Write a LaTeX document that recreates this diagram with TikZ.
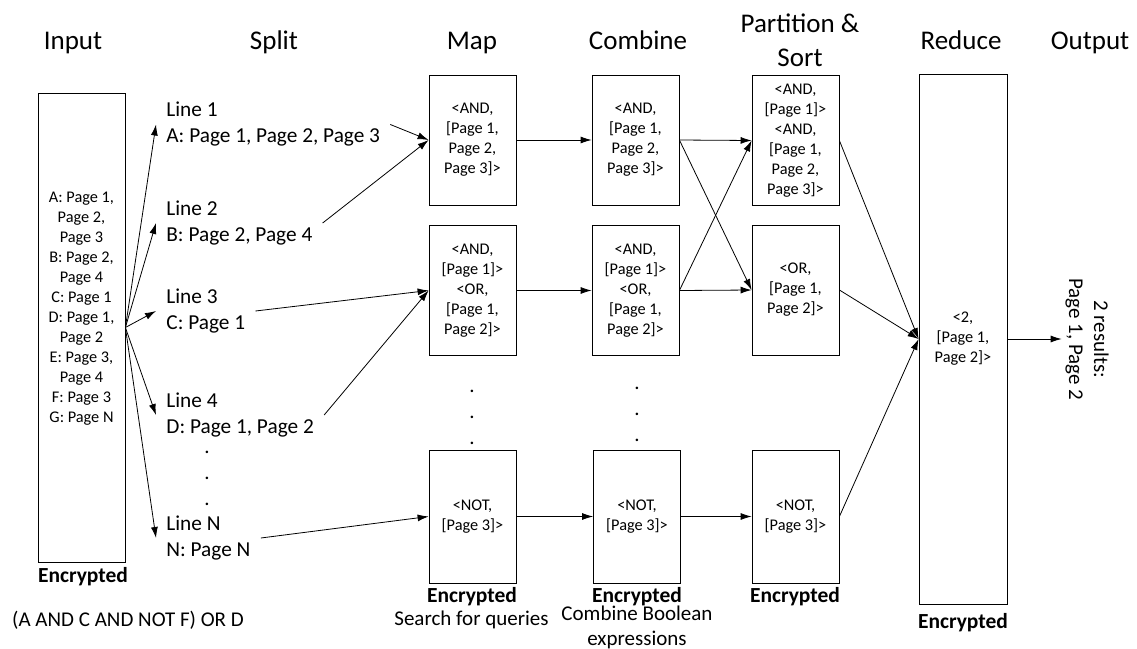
\documentclass[tikz,border=0pt]{standalone}
\usepackage{fontspec}
\setmainfont{Carlito}
\usetikzlibrary{arrows.meta}

\begin{document}
\begin{tikzpicture}[x=1pt, y=-1pt, line width=0.8pt, >={Latex[length=11pt,width=7pt]},
  box/.style={rectangle, draw, minimum width=87pt, minimum height=130pt, inner sep=0pt, align=center, font=\fontsize{16.3}{20}\selectfont},
  hdr/.style={anchor=base, font=\fontsize{27}{34}\selectfont},
  txt/.style={align=center, font=\fontsize{21}{25}\selectfont},
  enc/.style={font=\fontsize{21.5}{25}\selectfont\bfseries},
  splitline/.style={anchor=west, align=left, inner xsep=10pt, inner ysep=0pt, font=\fontsize{21.3}{26}\selectfont},
  dots/.style={align=center, inner sep=0pt, font=\fontsize{21}{26}\selectfont}]
  \useasboundingbox (0, 0) rectangle (1137, 648);

  \node (hinput) [hdr] at (73, 49) {Input};
  \node (hsplit) [hdr] at (274, 49) {Split};
  \node (hmap) [hdr] at (472, 49) {Map};
  \node (hcomb) [hdr] at (638, 49) {Combine};
  \node (hpart) [align=center, font=\fontsize{27}{34}\selectfont] at (800, 40) {Partition \&\\Sort};
  \node (hreduce) [hdr] at (961, 49) {Reduce};
  \node (houtput) [hdr] at (1090, 49) {Output};

  \node (input) [rectangle, draw, minimum width=87pt, minimum height=469pt] at (81.5, 327.5) {};
  \node (inputtext) [align=center, font=\fontsize{16.3}{20}\selectfont] at (81.5, 308.5)
    {A: Page 1,\\Page 2,\\Page 3\\B: Page 2,\\Page 4\\C: Page 1\\D: Page 1,\\Page 2\\E: Page 3,\\Page 4\\F: Page 3\\G: Page N};
  \node (encinput) [enc] at (83, 577) {Encrypted};
  \node (query) [txt] at (128, 620) {(A AND C AND NOT F) OR D};

  \node (split1) [splitline] at (156, 124.5) {Line 1\\A: Page 1, Page 2, Page 3};
  \node (split2) [splitline] at (156, 223) {Line 2\\B: Page 2, Page 4};
  \node (split3) [splitline] at (156, 311) {Line 3\\C: Page 1};
  \node (split4) [splitline] at (156, 415) {Line 4\\D: Page 1, Page 2};
  \node (dotsplit) [dots] at (207, 478) {.\\.\\.};
  \node (splitn) [splitline] at (156, 538) {Line N\\N: Page N};

  \node (map1) [box] at (472.5, 140) {<AND,\\{[}Page 1,\\Page 2,\\Page 3]>};
  \node (map2) [box] at (472.5, 290.5) {<AND,\\{[}Page 1]>\\<OR,\\{[}Page 1,\\Page 2]>};
  \node (dotmap) [dots] at (472, 417) {.\\.\\.};
  \node (map3) [box, minimum height=133pt] at (472.5, 516.5) {<NOT,\\{[}Page 3]>};
  \node (encmap) [enc] at (472, 597) {Encrypted};
  \node (search) [txt] at (471.5, 620) {Search for queries};

  \node (comb1) [box] at (635.5, 140) {<AND,\\{[}Page 1,\\Page 2,\\Page 3]>};
  \node (comb2) [box] at (635.5, 290.5) {<AND,\\{[}Page 1]>\\<OR,\\{[}Page 1,\\Page 2]>};
  \node (dotcomb) [dots] at (637, 414) {.\\.\\.};
  \node (comb3) [box, minimum height=133pt] at (637, 516.5) {<NOT,\\{[}Page 3]>};
  \node (enccomb) [enc] at (637, 597) {Encrypted};
  \node (combdesc) [txt] at (637, 627.5) {Combine Boolean\\expressions};

  \node (part1) [box] at (795.5, 140.5) {<AND,\\{[}Page 1]>\\<AND,\\{[}Page 1,\\Page 2,\\Page 3]>};
  \node (part2) [box] at (795.5, 290) {<OR,\\{[}Page 1,\\Page 2]>};
  \node (part3) [box, minimum height=133pt] at (795.5, 516.5) {<NOT,\\{[}Page 3]>};
  \node (encpart) [enc] at (795, 597) {Encrypted};

  \node (reduce) [box, minimum width=88pt, minimum height=530pt] at (963, 339) {<2,\\{[}Page 1,\\Page 2]>};
  \node (encreduce) [enc] at (963, 623) {Encrypted};

  \node (output) [txt, rotate=-90] at (1087, 339) {2 results:\\Page 1, Page 2};

  \foreach \s in {split1, split2, split3, split4, splitn}
    \draw[->] (input.east) -- (\s.west);

  \draw[->] (split1.east) -- (map1.west);
  \draw[->] (split2.east) -- (map1.west);
  \draw[->] (split3.east) -- (map2.west);
  \draw[->] (split4.east) -- (map2.west);
  \draw[->] (splitn.east) -- (map3.west);

  \draw[->] (map1) -- (comb1);
  \draw[->] (map2) -- (comb2);
  \draw[->] (map3) -- (comb3);

  \draw[->] (comb1.east) -- (part1.west);
  \draw[->] (comb1.east) -- (part2.west);
  \draw[->] (comb2.east) -- (part1.west);
  \draw[->] (comb2.east) -- (part2.west);
  \draw[->] (comb3.east) -- (part3.west);

  \draw[->] (part1.east) -- (reduce.west);
  \draw[->] (part2.east) -- (reduce.west);
  \draw[->] (part3.east) -- (reduce.west);

  \draw[->] (reduce.east) -- (output.south);
\end{tikzpicture}
\end{document}
